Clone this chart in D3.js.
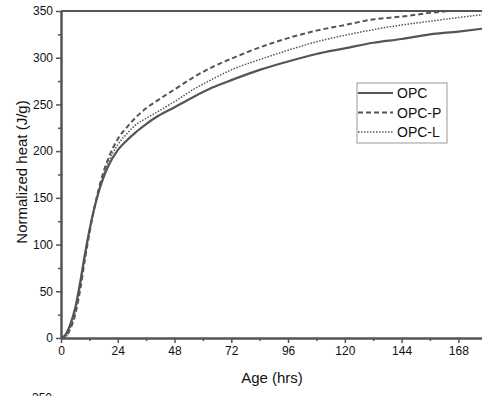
<!DOCTYPE html>
<html>
<head>
<meta charset="utf-8">
<script src="https://cdn.jsdelivr.net/npm/d3@7"></script>
<style>
    body { margin: 0; background: #fff; }
    svg text { font-family: "Liberation Sans", Arial, sans-serif; fill: #111; }
</style>
</head>
<body>
<div id="chart"></div>
<script>
// hours of age
const hours = [0, 2, 4, 6, 8, 10, 12, 14, 16, 18, 20, 24, 28, 32, 36, 40, 48, 56, 64, 72, 84, 96, 108, 120, 132, 144, 156, 168, 178];
// normalized heat (J/g)
const opc  = [0, 4, 15, 32, 58, 88, 115, 138, 157, 172, 184, 201, 212, 221, 229, 236, 247, 258, 268, 276, 287, 296, 304, 310, 316, 320, 325, 328, 331];
const opcP = [0, 2, 10, 25, 50, 82, 112, 138, 160, 178, 192, 213, 226, 237, 246, 253, 266, 279, 290, 299, 311, 321, 329, 335, 341, 344, 348, 351, 354];
const opcL = [0, 1, 12, 28, 54, 85, 114, 138, 158, 175, 188, 207, 219, 229, 235, 241, 253, 266, 277, 287, 298, 308, 317, 324, 330, 335, 339, 343, 346];
const seriesNames = ["OPC", "OPC-P", "OPC-L"];
const xTicks = [0, 24, 48, 72, 96, 120, 144, 168];
const yTicks = [0, 50, 100, 150, 200, 250, 300, 350];

const totalWidth = 482, totalHeight = 396;
const plot = {left: 61, top: 11, right: 482, bottom: 338};
const ink = "#555";

const x = d3.scaleLinear().domain([0, 178]).range([plot.left, plot.right]);
const y = d3.scaleLinear().domain([0, 350]).range([plot.bottom, plot.top]);

const svg = d3.select("#chart").append("svg")
    .attr("width", totalWidth)
    .attr("height", totalHeight);

svg.append("defs").append("clipPath").attr("id", "clip")
    .append("rect")
    .attr("x", plot.left).attr("y", plot.top)
    .attr("width", plot.right - plot.left).attr("height", plot.bottom - plot.top);

// top frame line
svg.append("line")
    .attr("x1", plot.left).attr("x2", plot.right)
    .attr("y1", plot.top).attr("y2", plot.top)
    .attr("stroke", ink).attr("stroke-width", 2);

const styles = [
    {data: opc, width: 2.2, dash: null},
    {data: opcP, width: 2, dash: "5,3"},
    {data: opcL, width: 1.5, dash: "1.5,1.5"},
];

const line = d3.line()
    .x((d, i) => x(hours[i]))
    .y(d => y(d))
    .curve(d3.curveMonotoneX);

const curves = svg.append("g").attr("clip-path", "url(#clip)");
styles.forEach(s => {
    curves.append("path")
        .attr("d", line(s.data))
        .attr("fill", "none")
        .attr("stroke", ink)
        .attr("stroke-width", s.width)
        .attr("stroke-dasharray", s.dash);
});

// x axis
const xAxis = svg.append("g")
    .attr("transform", `translate(0,${plot.bottom})`)
    .call(d3.axisBottom(x).tickValues(xTicks).tickSize(5).tickSizeOuter(0).tickPadding(3));
const xMinor = svg.append("g")
    .attr("transform", `translate(0,${plot.bottom})`)
    .call(d3.axisBottom(x).tickValues(d3.range(12, 178, 24)).tickSize(3).tickFormat("").tickSizeOuter(0));

// y axis
const yAxis = svg.append("g")
    .attr("transform", `translate(${plot.left},0)`)
    .call(d3.axisLeft(y).tickValues(yTicks).tickSize(5).tickSizeOuter(0).tickPadding(3));
const yMinor = svg.append("g")
    .attr("transform", `translate(${plot.left},0)`)
    .call(d3.axisLeft(y).tickValues(d3.range(25, 350, 50)).tickSize(3).tickFormat("").tickSizeOuter(0));

[xAxis, xMinor, yAxis, yMinor].forEach(g => {
    g.select(".domain").attr("stroke", ink).attr("stroke-width", 2);
    g.selectAll(".tick line").attr("stroke", ink).attr("stroke-width", 1.5);
    g.selectAll(".tick text").attr("font-size", 12).attr("font-family", "Liberation Sans, Arial, sans-serif").attr("fill", "#111");
});

svg.append("text")
    .attr("x", 272).attr("y", 383)
    .attr("text-anchor", "middle")
    .attr("font-size", 15)
    .text("Age (hrs)");

svg.append("text")
    .attr("transform", "translate(27,172) rotate(-90)")
    .attr("text-anchor", "middle")
    .attr("font-size", 15)
    .text("Normalized heat (J/g)");

// cut-off tick label of the panel below
svg.append("text")
    .attr("x", 52).attr("y", 402)
    .attr("text-anchor", "end")
    .attr("font-size", 12)
    .text("350");

// legend
const legend = svg.append("g").attr("transform", "translate(357,83)");
legend.append("rect")
    .attr("width", 90).attr("height", 60)
    .attr("fill", "#fff").attr("stroke", "#999").attr("stroke-width", 1);
seriesNames.forEach((name, i) => {
    const row = legend.append("g").attr("transform", `translate(0,${10 + i * 19.5})`);
    row.append("line")
        .attr("x1", 1).attr("x2", 36)
        .attr("stroke", ink)
        .attr("stroke-width", styles[i].width)
        .attr("stroke-dasharray", styles[i].dash);
    row.append("text")
        .attr("x", 40).attr("y", 5)
        .attr("font-size", 14)
        .text(name);
});
</script>
</body>
</html>
